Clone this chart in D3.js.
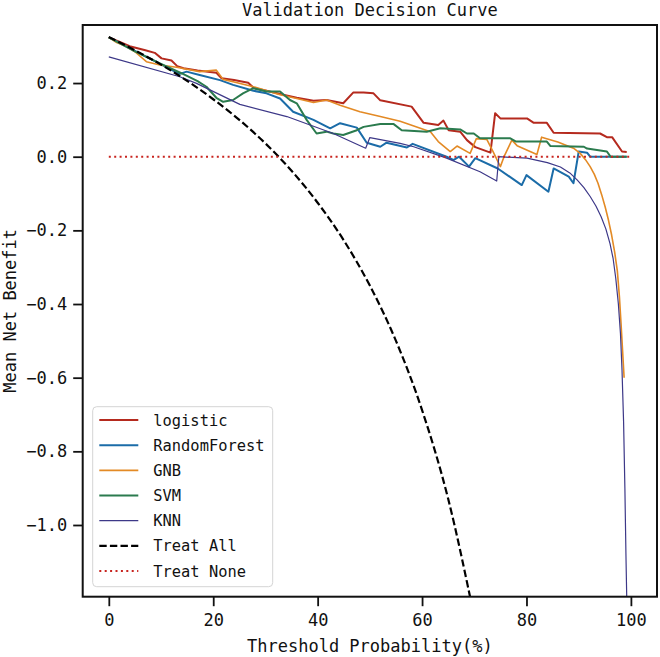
<!DOCTYPE html>
<html>
<head>
<meta charset="utf-8">
<script src="https://cdn.jsdelivr.net/npm/d3@7"></script>
<style>
  body { margin: 0; background: #fff; }
  text { font-family: "DejaVu Sans Mono", monospace; fill: #111; }
</style>
</head>
<body>
<div id="chart"></div>
<script>
// threshold (%) , mean net benefit
const logisticPts = [[0,0.324],[2,0.312],[4,0.300],[7,0.289],[8.8,0.282],[10.1,0.267],[12,0.261],[13.1,0.246],[14.3,0.240],[17,0.234],[20.6,0.228],[21.6,0.213],[24,0.208],[26.7,0.201],[27.7,0.187],[30,0.180],[33.4,0.168],[36,0.160],[39.2,0.152],[41.7,0.154],[44.9,0.145],[46.8,0.174],[48.8,0.174],[50.7,0.172],[52,0.153],[58,0.136],[60.3,0.092],[63.1,0.086],[64.1,0.098],[65.1,0.072],[67.3,0.068],[68.6,0.045],[70.2,0.026],[73.1,0.011],[74,0.118],[75,0.104],[80.1,0.104],[81.4,0.092],[83.9,0.092],[85.2,0.065],[94.1,0.063],[95.4,0.053],[96.4,0.053],[98.3,0.014],[99.2,0.013]];
const rfPts = [[0,0.324],[3,0.302],[6,0.280],[9,0.258],[12.3,0.234],[13.6,0.225],[14.9,0.231],[17.4,0.222],[21.3,0.208],[23.8,0.195],[27.7,0.179],[30.2,0.172],[32.8,0.158],[35.3,0.122],[38.5,0.104],[39.2,0.100],[42.4,0.077],[44.3,0.091],[47.5,0.079],[49.4,0.038],[52,0.027],[53.2,0.038],[57.1,0.025],[58.2,0.035],[64.7,0.0],[66,-0.009],[67.1,0.0],[69,-0.027],[70.2,-0.004],[74.5,-0.032],[79.1,-0.077],[80,-0.050],[84.2,-0.095],[85.2,-0.032],[88.1,-0.054],[89,-0.072],[90,0.014],[91.6,0.011],[92.2,0.0],[99.2,0.0]];
const gnbPts = [[0,0.324],[1.5,0.310],[3.4,0.299],[5,0.285],[7.2,0.258],[9.8,0.249],[13,0.243],[17.4,0.231],[20.6,0.235],[21.9,0.210],[24,0.203],[27.7,0.190],[32.8,0.168],[36,0.158],[39.2,0.147],[41.7,0.154],[44.3,0.140],[48.1,0.122],[52,0.109],[55.8,0.096],[61.6,0.068],[63.1,0.041],[65.4,0.014],[66.7,0.029],[69.2,0.009],[70.4,0.049],[72.4,0.047],[73.6,0.014],[75,-0.027],[75.7,0.0],[77.2,0.045],[78.2,0.030],[82,0.006],[82.9,0.053],[86,0.040],[89,0.023],[90.3,0.009],[91.3,-0.008],[92.2,-0.027],[93,-0.048],[93.7,-0.072],[94.4,-0.103],[95.1,-0.138],[95.7,-0.172],[96.3,-0.212],[96.9,-0.260],[97.4,-0.310],[97.8,-0.380],[98.1,-0.450],[98.4,-0.525],[98.7,-0.600]];
const svmPts = [[0,0.324],[5,0.286],[10,0.252],[14,0.226],[17,0.205],[18.7,0.190],[20.6,0.160],[21.9,0.149],[23.8,0.154],[25.7,0.172],[27.7,0.186],[30.2,0.177],[32.8,0.177],[34.7,0.154],[36,0.145],[37.9,0.100],[39.8,0.063],[41.7,0.068],[43,0.063],[44.9,0.059],[47.5,0.072],[48.8,0.081],[52,0.089],[54.5,0.089],[56.1,0.072],[60.9,0.068],[63.5,0.077],[67.3,0.074],[68.6,0.063],[69.9,0.063],[71.1,0.050],[76.9,0.050],[78,0.041],[83.9,0.041],[84.6,0.029],[91,0.027],[91.6,0.022],[95.4,0.014],[96.1,0.0],[99.2,0.0]];
const knnPts = [[0,0.271],[13.6,0.217],[16.8,0.199],[25.1,0.142],[34.1,0.109],[43,0.063],[49.2,0.023],[50,0.052],[55.8,0.036],[58.4,0.027],[64.7,-0.004],[71.1,-0.041],[74.3,-0.066],[74.7,0.0],[80.1,-0.004],[84,-0.016],[86.5,-0.028],[88.3,-0.044],[89.7,-0.063],[91,-0.084],[92.2,-0.108],[93.3,-0.134],[94.3,-0.163],[95.2,-0.196],[96,-0.236],[96.6,-0.277],[97.1,-0.330],[97.6,-0.400],[98,-0.480],[98.3,-0.580],[98.6,-0.720],[98.85,-0.900],[99.05,-1.080],[99.2,-1.195],[99.3,-1.350]];
const treatAllPts = [[0,0.325],[5,0.289],[10,0.250],[15,0.206],[20,0.156],[25,0.100],[30,0.036],[35,-0.038],[40,-0.125],[45,-0.227],[50,-0.350],[55,-0.500],[60,-0.688],[65,-0.929],[70,-1.250]];
const treatNonePts = [[0,0],[100,0]];

const seriesNames = ["logistic", "RandomForest", "GNB", "SVM", "KNN", "Treat All", "Treat None"];
const seriesData = [logisticPts, rfPts, gnbPts, svmPts, knnPts, treatAllPts, treatNonePts];
const seriesColors = ["#B52A1E", "#1B6CA8", "#E38A25", "#2B7B4E", "#3D3888", "#000000", "#C8241F"];
const seriesWidths = [2, 2, 1.6, 2, 1.2, 2.2, 2];
const seriesDash = [null, null, null, null, null, "7.4,3.2", "2,3.4"];

const xTicks = [0, 20, 40, 60, 80, 100];
const yTicks = [0.2, 0.0, -0.2, -0.4, -0.6, -0.8, -1.0];

const width = 660, height = 657;
const plot = {left: 82.7, right: 657, top: 25, bottom: 596.7};

const svg = d3.select("#chart").append("svg")
    .attr("width", width)
    .attr("height", height);

const x = d3.scaleLinear().domain([-5, 105]).range([plot.left, plot.right]);
const y = d3.scaleLinear().domain([-1.1947, 0.3576]).range([plot.bottom, plot.top]);

svg.append("clipPath").attr("id", "clip")
  .append("rect")
    .attr("x", plot.left).attr("y", plot.top)
    .attr("width", plot.right - plot.left).attr("height", plot.bottom - plot.top);

// lines
const lines = svg.append("g").attr("clip-path", "url(#clip)");
seriesData.forEach((pts, i) => {
    const gen = d3.line()
        .x(d => x(d[0]))
        .y(d => y(d[1]));
    if (seriesNames[i] === "Treat All") gen.curve(d3.curveMonotoneX);
    lines.append("path")
        .datum(pts)
        .attr("d", gen)
        .attr("fill", "none")
        .attr("stroke", seriesColors[i])
        .attr("stroke-width", seriesWidths[i])
        .attr("stroke-linejoin", "round")
        .attr("stroke-dasharray", seriesDash[i]);
});

// axes
const xAxis = svg.append("g")
    .attr("transform", `translate(0,${plot.bottom})`)
    .call(d3.axisBottom(x).tickValues(xTicks).tickSize(9.5).tickPadding(8));
const yAxis = svg.append("g")
    .attr("transform", `translate(${plot.left},0)`)
    .call(d3.axisLeft(y).tickValues(yTicks).tickSize(9.5).tickPadding(6).tickFormat(d3.format(".1f")));
[xAxis, yAxis].forEach(a => {
    a.select(".domain").remove();
    a.selectAll(".tick line").attr("stroke", "#111").attr("stroke-width", 1.8);
    a.selectAll(".tick text").style("font-size", "17px").style("font-family", "DejaVu Sans Mono").attr("fill", "#111");
});

svg.append("rect")
    .attr("x", plot.left).attr("y", plot.top)
    .attr("width", plot.right - plot.left).attr("height", plot.bottom - plot.top)
    .attr("fill", "none").attr("stroke", "#111").attr("stroke-width", 2);

// texts
svg.append("text")
    .attr("x", (plot.left + plot.right) / 2).attr("y", 16)
    .attr("text-anchor", "middle").style("font-size", "17px")
    .text("Validation Decision Curve");
svg.append("text")
    .attr("x", (plot.left + plot.right) / 2).attr("y", 652)
    .attr("text-anchor", "middle").style("font-size", "17px")
    .text("Threshold Probability(%)");
svg.append("text")
    .attr("transform", `translate(15.5,${(plot.top + plot.bottom) / 2}) rotate(-90)`)
    .attr("text-anchor", "middle").style("font-size", "17px")
    .text("Mean Net Benefit");

// legend
const legend = svg.append("g");
legend.append("rect")
    .attr("x", 92.7).attr("y", 406.7)
    .attr("width", 180).attr("height", 180)
    .attr("rx", 4)
    .attr("fill", "#fff").attr("fill-opacity", 0.85)
    .attr("stroke", "#d4d4d4").attr("stroke-width", 1);
seriesNames.forEach((name, i) => {
    const cy = 420 + i * 25.17;
    legend.append("line")
        .attr("x1", 99.3).attr("x2", 138.3)
        .attr("y1", cy).attr("y2", cy)
        .attr("stroke", seriesColors[i])
        .attr("stroke-width", seriesWidths[i])
        .attr("stroke-dasharray", seriesDash[i]);
    legend.append("text")
        .attr("x", 153.3).attr("y", cy + 5.5)
        .style("font-size", "15.4px")
        .text(name);
});
</script>
</body>
</html>
